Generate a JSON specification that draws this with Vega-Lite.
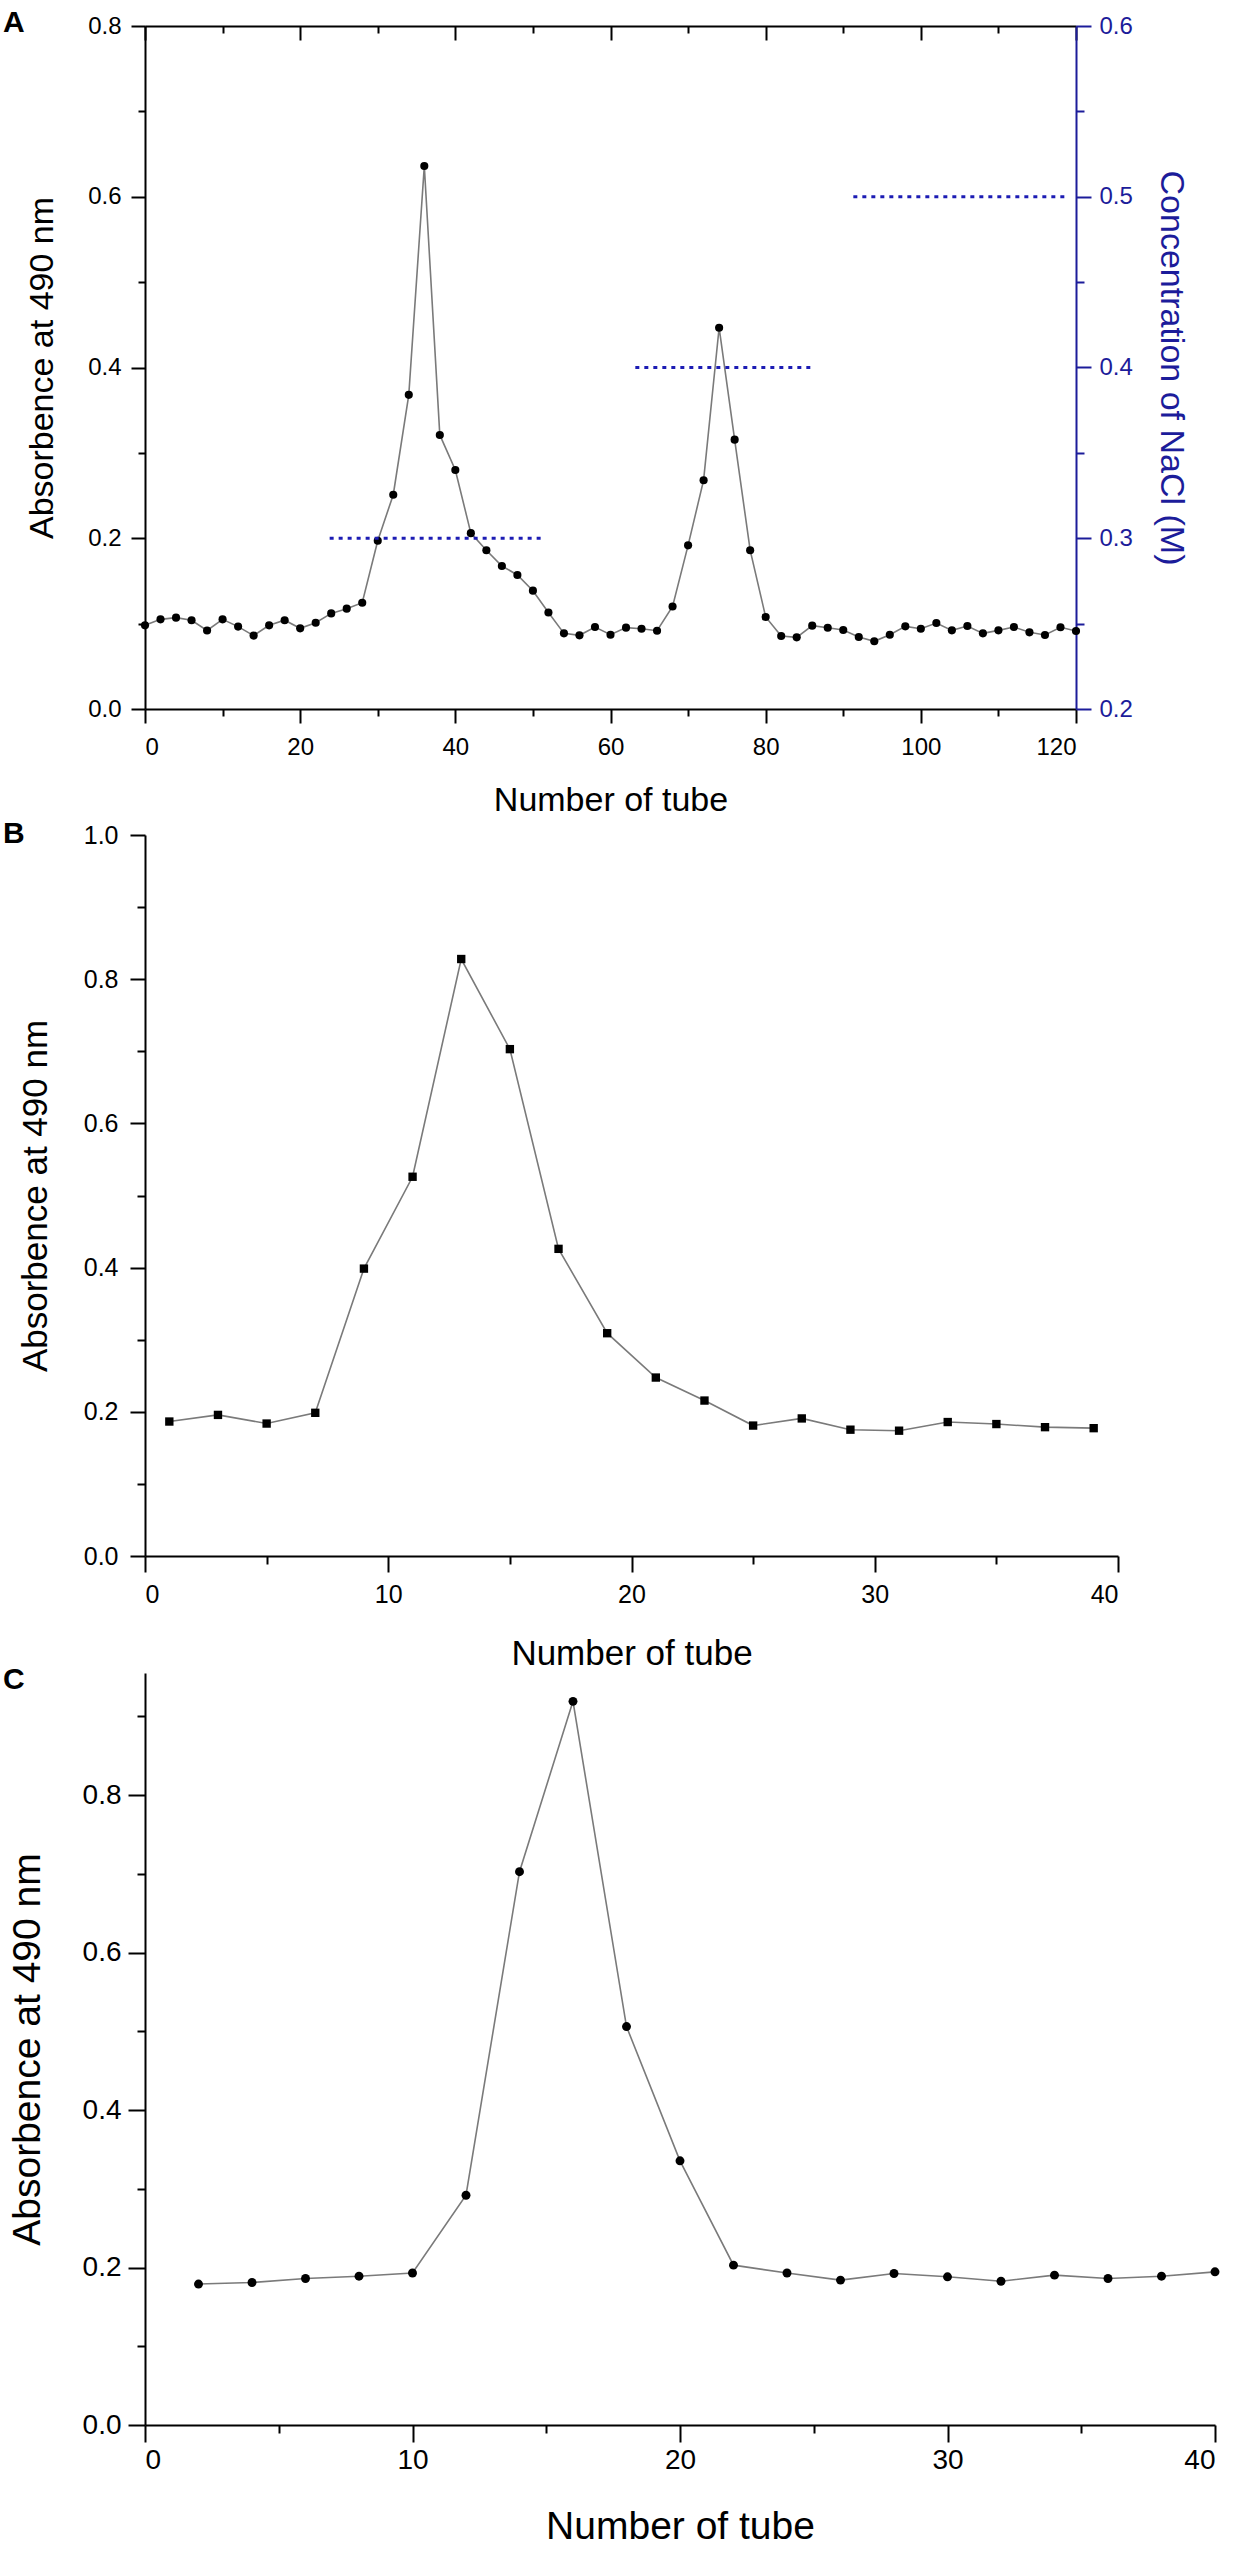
{
  "$schema": "https://vega.github.io/schema/vega-lite/v6.json",
  "autosize": {"type": "none"},
  "padding": {"left": 145, "top": 26, "right": 1105, "bottom": 2524},
  "background": "white",
  "datasets": {
    "a_abs": [
      {"tube": 0, "abs": 0.098}, {"tube": 2, "abs": 0.105}, {"tube": 4, "abs": 0.107}, {"tube": 6, "abs": 0.104},
      {"tube": 8, "abs": 0.092}, {"tube": 10, "abs": 0.105}, {"tube": 12, "abs": 0.0965}, {"tube": 14, "abs": 0.086},
      {"tube": 16, "abs": 0.098}, {"tube": 18, "abs": 0.104}, {"tube": 20, "abs": 0.0945}, {"tube": 22, "abs": 0.101},
      {"tube": 24, "abs": 0.112}, {"tube": 26, "abs": 0.1175}, {"tube": 28, "abs": 0.1245}, {"tube": 30, "abs": 0.197},
      {"tube": 32, "abs": 0.251}, {"tube": 34, "abs": 0.368}, {"tube": 36, "abs": 0.636}, {"tube": 38, "abs": 0.321},
      {"tube": 40, "abs": 0.28}, {"tube": 42, "abs": 0.206}, {"tube": 44, "abs": 0.186}, {"tube": 46, "abs": 0.1675},
      {"tube": 48, "abs": 0.157}, {"tube": 50, "abs": 0.1386}, {"tube": 52, "abs": 0.113}, {"tube": 54, "abs": 0.0886},
      {"tube": 56, "abs": 0.0863}, {"tube": 58, "abs": 0.096}, {"tube": 60, "abs": 0.087}, {"tube": 62, "abs": 0.0953},
      {"tube": 64, "abs": 0.094}, {"tube": 66, "abs": 0.0917}, {"tube": 68, "abs": 0.12}, {"tube": 70, "abs": 0.1917},
      {"tube": 72, "abs": 0.268}, {"tube": 74, "abs": 0.4466}, {"tube": 76, "abs": 0.3155}, {"tube": 78, "abs": 0.186},
      {"tube": 80, "abs": 0.1078}, {"tube": 82, "abs": 0.0855}, {"tube": 84, "abs": 0.0839}, {"tube": 86, "abs": 0.0976},
      {"tube": 88, "abs": 0.0952}, {"tube": 90, "abs": 0.0925}, {"tube": 92, "abs": 0.0843}, {"tube": 94, "abs": 0.0793},
      {"tube": 96, "abs": 0.087}, {"tube": 98, "abs": 0.0968}, {"tube": 100, "abs": 0.094}, {"tube": 102, "abs": 0.1007},
      {"tube": 104, "abs": 0.0921}, {"tube": 106, "abs": 0.0972}, {"tube": 108, "abs": 0.0886}, {"tube": 110, "abs": 0.0921},
      {"tube": 112, "abs": 0.096}, {"tube": 114, "abs": 0.0898}, {"tube": 116, "abs": 0.0867}, {"tube": 118, "abs": 0.0957},
      {"tube": 120, "abs": 0.0914}
    ],
    "a_nacl": [
      {"start": 23.8, "end": 51.2, "conc": 0.3},
      {"start": 63.2, "end": 85.9, "conc": 0.4},
      {"start": 91.3, "end": 118.6, "conc": 0.5}
    ],
    "b_abs": [
      {"tube": 1, "abs": 0.1865}, {"tube": 3, "abs": 0.1957}, {"tube": 5, "abs": 0.1837}, {"tube": 7, "abs": 0.1986},
      {"tube": 9, "abs": 0.3986}, {"tube": 11, "abs": 0.526}, {"tube": 13, "abs": 0.828}, {"tube": 15, "abs": 0.703},
      {"tube": 17, "abs": 0.426}, {"tube": 19, "abs": 0.309}, {"tube": 21, "abs": 0.2475}, {"tube": 23, "abs": 0.2156},
      {"tube": 25, "abs": 0.1809}, {"tube": 27, "abs": 0.1908}, {"tube": 29, "abs": 0.1752}, {"tube": 31, "abs": 0.1738},
      {"tube": 33, "abs": 0.1858}, {"tube": 35, "abs": 0.183}, {"tube": 37, "abs": 0.1787}, {"tube": 39, "abs": 0.1773}
    ],
    "c_abs": [
      {"tube": 2, "abs": 0.179}, {"tube": 4, "abs": 0.181}, {"tube": 6, "abs": 0.186}, {"tube": 8, "abs": 0.189},
      {"tube": 10, "abs": 0.193}, {"tube": 12, "abs": 0.2918}, {"tube": 14, "abs": 0.7027}, {"tube": 16, "abs": 0.919},
      {"tube": 18, "abs": 0.506}, {"tube": 20, "abs": 0.3355}, {"tube": 22, "abs": 0.203}, {"tube": 24, "abs": 0.193},
      {"tube": 26, "abs": 0.184}, {"tube": 28, "abs": 0.1924}, {"tube": 30, "abs": 0.1882}, {"tube": 32, "abs": 0.1826},
      {"tube": 34, "abs": 0.1903}, {"tube": 36, "abs": 0.186}, {"tube": 38, "abs": 0.189}, {"tube": 40, "abs": 0.1945}
    ]
  },
  "vconcat": [
    {
      "title": {"text": "A", "dx": -142, "dy": 28},
      "width": 931,
      "height": 683,
      "layer": [
        {
          "data": {"name": "a_abs"},
          "mark": {"type": "line", "color": "#7a7a7a", "strokeWidth": 1.6, "point": {"filled": true, "color": "black", "size": 66, "opacity": 1}},
          "encoding": {
            "x": {
              "field": "tube", "type": "quantitative",
              "scale": {"domain": [0, 120], "nice": false, "zero": false},
              "axis": {
                "orient": "bottom",
                "values": [0, 10, 20, 30, 40, 50, 60, 70, 80, 90, 100, 110, 120],
                "labelExpr": "datum.value % 20 === 0 ? datum.label : ''",
                "tickSize": {"condition": {"test": "datum.value % 20 === 0", "value": 14}, "value": 7},
                "labelFontSize": 24, "labelPadding": 12,
                "title": "Number of tube", "titleFontSize": 34, "titlePadding": 24
              }
            },
            "y": {
              "field": "abs", "type": "quantitative",
              "scale": {"domain": [0, 0.8], "nice": false, "zero": false},
              "axis": {
                "orient": "left",
                "values": [0, 0.1, 0.2, 0.3, 0.4, 0.5, 0.6, 0.7, 0.8],
                "format": ".1f",
                "labelExpr": "round(datum.value * 10) % 2 === 0 ? datum.label : ''",
                "tickSize": {"condition": {"test": "round(datum.value * 10) % 2 === 0", "value": 14}, "value": 7},
                "labelFontSize": 24, "labelPadding": 10,
                "title": "Absorbence at 490 nm", "titleFontSize": 34, "titlePadding": 28
              }
            }
          }
        },
        {
          "data": {"name": "a_nacl"},
          "mark": {"type": "rule", "color": "#1c1cb4", "strokeWidth": 3, "strokeDash": [4, 5]},
          "encoding": {
            "x": {
              "field": "start", "type": "quantitative",
              "scale": {"domain": [0, 120], "nice": false, "zero": false},
              "axis": {
                "orient": "top",
                "values": [0, 10, 20, 30, 40, 50, 60, 70, 80, 90, 100, 110, 120],
                "labels": false, "title": null,
                "tickSize": {"condition": {"test": "datum.value % 20 === 0", "value": -14}, "value": -7}
              }
            },
            "x2": {"field": "end"},
            "y": {
              "field": "conc", "type": "quantitative",
              "scale": {"domain": [0.2, 0.6], "nice": false, "zero": false},
              "axis": {
                "orient": "right",
                "values": [0.2, 0.25, 0.3, 0.35, 0.4, 0.45, 0.5, 0.55, 0.6],
                "format": ".1f",
                "labelExpr": "round(datum.value * 20) % 2 === 0 ? datum.label : ''",
                "tickSize": {"condition": {"test": "round(datum.value * 20) % 2 === 0", "value": 15}, "value": 8},
                "domainColor": "#1c1c9a", "tickColor": "#1c1c9a", "labelColor": "#1c1c9a", "titleColor": "#1c1c9a",
                "labelFontSize": 24, "labelPadding": 8,
                "title": "Concentration of NaCl (M)", "titleFontSize": 34, "titlePadding": 21
              }
            }
          }
        }
      ],
      "resolve": {"scale": {"y": "independent"}}
    },
    {
      "vconcat": [
        {
          "title": {"text": "B", "dx": -142, "dy": 30},
          "width": 973,
          "height": 721,
          "data": {"name": "b_abs"},
          "mark": {"type": "line", "color": "#7a7a7a", "strokeWidth": 1.6, "point": {"filled": true, "color": "black", "shape": "square", "size": 70, "opacity": 1}},
          "encoding": {
            "x": {
              "field": "tube", "type": "quantitative",
              "scale": {"domain": [0, 40], "nice": false, "zero": false},
              "axis": {
                "values": [0, 5, 10, 15, 20, 25, 30, 35, 40],
                "labelExpr": "datum.value % 10 === 0 ? datum.label : ''",
                "tickSize": {"condition": {"test": "datum.value % 10 === 0", "value": 16}, "value": 8},
                "labelFontSize": 25, "labelPadding": 10,
                "title": "Number of tube", "titleFontSize": 35, "titlePadding": 29
              }
            },
            "y": {
              "field": "abs", "type": "quantitative",
              "scale": {"domain": [0, 1], "nice": false, "zero": false},
              "axis": {
                "values": [0, 0.1, 0.2, 0.3, 0.4, 0.5, 0.6, 0.7, 0.8, 0.9, 1.0],
                "format": ".1f",
                "labelExpr": "round(datum.value * 10) % 2 === 0 ? datum.label : ''",
                "tickSize": {"condition": {"test": "round(datum.value * 10) % 2 === 0", "value": 15}, "value": 8},
                "labelFontSize": 25, "labelPadding": 12,
                "title": "Absorbence at 490 nm", "titleFontSize": 35, "titlePadding": 30
              }
            }
          }
        },
        {
          "title": {"text": "C", "dx": -142, "dy": 26},
          "width": 1070,
          "height": 752,
          "data": {"name": "c_abs"},
          "mark": {"type": "line", "color": "#7a7a7a", "strokeWidth": 1.6, "point": {"filled": true, "color": "black", "size": 80, "opacity": 1}},
          "encoding": {
            "x": {
              "field": "tube", "type": "quantitative",
              "scale": {"domain": [0, 40], "nice": false, "zero": false},
              "axis": {
                "values": [0, 5, 10, 15, 20, 25, 30, 35, 40],
                "labelExpr": "datum.value % 10 === 0 ? datum.label : ''",
                "tickSize": {"condition": {"test": "datum.value % 10 === 0", "value": 17}, "value": 8},
                "labelFontSize": 28, "labelPadding": 4,
                "title": "Number of tube", "titleFontSize": 39, "titlePadding": 33
              }
            },
            "y": {
              "field": "abs", "type": "quantitative",
              "scale": {"domain": [0, 0.955], "nice": false, "zero": false},
              "axis": {
                "values": [0, 0.1, 0.2, 0.3, 0.4, 0.5, 0.6, 0.7, 0.8, 0.9],
                "format": ".1f",
                "labelExpr": "round(datum.value * 10) % 2 === 0 ? datum.label : ''",
                "tickSize": {"condition": {"test": "round(datum.value * 10) % 2 === 0", "value": 17}, "value": 8},
                "labelFontSize": 28, "labelPadding": 7,
                "title": "Absorbence at 490 nm", "titleFontSize": 39, "titlePadding": 35
              }
            }
          }
        }
      ],
      "spacing": 117,
      "bounds": "flush"
    }
  ],
  "spacing": 126,
  "bounds": "flush",
  "config": {
    "view": {"stroke": null},
    "font": "Liberation Sans",
    "axis": {
      "domainColor": "black", "domainWidth": 2, "tickColor": "black", "tickWidth": 2, "grid": false,
      "labelColor": "black", "titleColor": "black", "titleFontWeight": "normal",
      "labelFont": "Liberation Sans", "titleFont": "Liberation Sans", "labelOverlap": false, "labelBound": false
    },
    "title": {"anchor": "start", "frame": "group", "fontWeight": "bold", "font": "Liberation Sans", "fontSize": 30, "color": "black", "offset": 0}
  }
}
